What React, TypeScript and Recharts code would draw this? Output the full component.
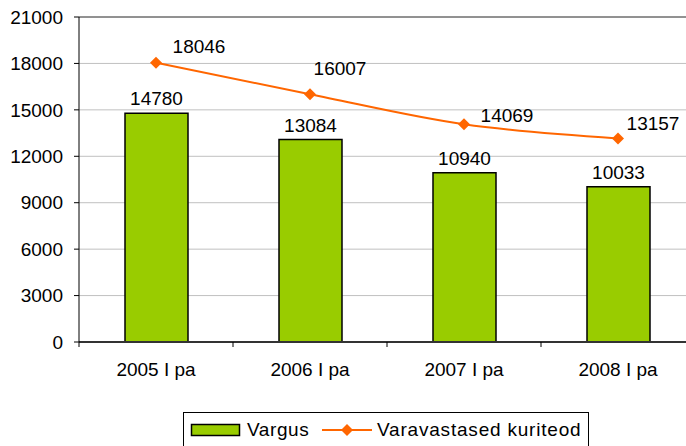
import React from "react";
import {
  ComposedChart,
  Bar,
  Line,
  XAxis,
  YAxis,
  CartesianGrid,
  LabelList,
  Legend,
  ReferenceLine,
} from "recharts";

const categories = ["2005 I pa", "2006 I pa", "2007 I pa", "2008 I pa"];
const vargus = [14780, 13084, 10940, 10033];
const kuriteod = [18046, 16007, 14069, 13157];
const yTicks = [0, 3000, 6000, 9000, 12000, 15000, 18000, 21000];

// where each line value label sits relative to its point (dx, dy)
const lineLabelOffsets = [
  [43, -16],
  [30, -26],
  [43, -9],
  [35, -15],
];

const GREEN = "#99CC00";
const ORANGE = "#FF6600";
const FONT = "'Liberation Sans', Arial, sans-serif";
const FS = 19;

const CHART_W = 700;
const CHART_H = 446;
const AXIS_LEFT = 79;
const MARGIN_RIGHT = 5;
const CAT_W = (CHART_W - AXIS_LEFT - MARGIN_RIGHT) / categories.length;

const data = categories.map((name, i) => ({
  name,
  vargus: vargus[i],
  kuriteod: kuriteod[i],
}));

const Diamond = (props: any) => {
  const { cx, cy } = props;
  if (cx == null || cy == null) return null;
  const s = 6;
  return (
    <polygon
      points={`${cx},${cy - s} ${cx + s},${cy} ${cx},${cy + s} ${cx - s},${cy}`}
      fill={ORANGE}
    />
  );
};

const LineValueLabel = (props: any) => {
  const { x, y, value, index } = props;
  const [dx, dy] = lineLabelOffsets[index] || [0, -15];
  return (
    <text
      x={x + dx}
      y={y + dy}
      textAnchor="middle"
      dominantBaseline="central"
      fontSize={FS}
      fontFamily={FONT}
      fill="#000"
    >
      {value}
    </text>
  );
};

const CategoryTick = (props: any) => {
  const { x, y, payload, index } = props;
  return (
    <g>
      {index === 0 && (
        <line x1={x - CAT_W / 2} x2={x - CAT_W / 2} y1={342} y2={347} stroke="#000" />
      )}
      <line x1={x + CAT_W / 2} x2={x + CAT_W / 2} y1={342} y2={347} stroke="#000" />
      <text
        x={x}
        y={y}
        dy="0.71em"
        textAnchor="middle"
        fontSize={FS}
        fontFamily={FONT}
        fill="#000"
      >
        {payload.value}
      </text>
    </g>
  );
};

const LegendBox = () => (
  <svg width={406} height={40} style={{ display: "block" }}>
    <rect x={0.5} y={0.5} width={405} height={45} fill="#fff" stroke="#000" />
    <rect x={8.5} y={12.5} width={48} height={11} fill={GREEN} stroke="#000" strokeWidth={1.5} />
    <text x={64} y={24} fontSize={FS} fontFamily={FONT} fill="#000" letterSpacing={0.6}>
      Vargus
    </text>
    <line x1={139} x2={189} y1={18} y2={18} stroke={ORANGE} strokeWidth={2} />
    <polygon points="164,12 170,18 164,24 158,18" fill={ORANGE} />
    <text x={194} y={24} fontSize={FS} fontFamily={FONT} fill="#000" letterSpacing={0.8}>
      Varavastased kuriteod
    </text>
  </svg>
);

export default function App() {
  return (
    <div
      style={{
        position: "fixed",
        left: 0,
        top: 0,
        width: 686,
        height: 446,
        overflow: "hidden",
        background: "#fff",
        fontFamily: FONT,
      }}
    >
      <ComposedChart
        width={CHART_W}
        height={CHART_H}
        data={data}
        margin={{ top: 17, right: MARGIN_RIGHT, left: 0, bottom: 64 }}
      >
        <CartesianGrid vertical={false} stroke="#c0c0c0" />
        <ReferenceLine y={21000} stroke="#444" />
        <XAxis
          dataKey="name"
          height={40}
          axisLine={{ stroke: "#333", strokeWidth: 2 }}
          tickLine={false}
          tickSize={5}
          tickMargin={16}
          tick={<CategoryTick />}
          interval={0}
        />
        <YAxis
          width={AXIS_LEFT}
          domain={[0, 21000]}
          ticks={yTicks}
          axisLine={{ stroke: "#000" }}
          tickLine={{ stroke: "#000" }}
          tickSize={5}
          tickMargin={11}
          tick={{ fontSize: FS, fill: "#000", fontFamily: FONT }}
          interval={0}
        />
        <Bar
          dataKey="vargus"
          name="Vargus"
          fill={GREEN}
          stroke="#000"
          strokeWidth={1.5}
          barSize={63}
          isAnimationActive={false}
        >
          <LabelList
            dataKey="vargus"
            position="top"
            offset={8}
            fontSize={FS}
            fill="#000"
            fontFamily={FONT}
          />
        </Bar>
        <Line
          type="monotone"
          dataKey="kuriteod"
          name="Varavastased kuriteod"
          stroke={ORANGE}
          strokeWidth={2}
          dot={<Diamond />}
          activeDot={false}
          isAnimationActive={false}
        >
          <LabelList dataKey="kuriteod" content={<LineValueLabel />} />
        </Line>
        <Legend
          layout="horizontal"
          verticalAlign="middle"
          align="center"
          content={<LegendBox />}
          wrapperStyle={{ left: 183, top: 412, width: 406, height: 40 }}
        />
      </ComposedChart>
    </div>
  );
}
